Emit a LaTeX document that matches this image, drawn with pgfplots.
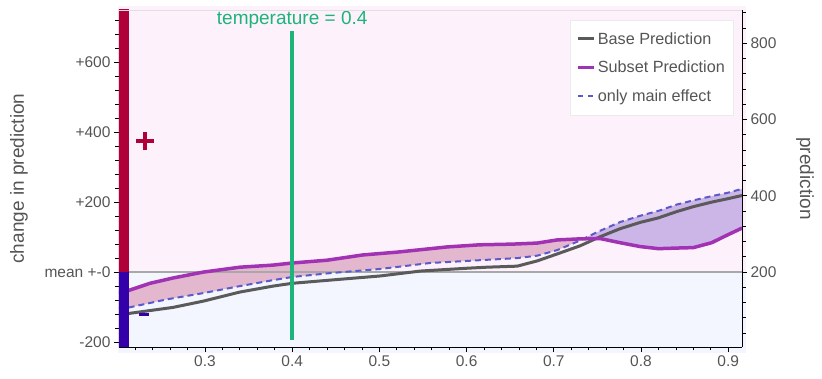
\documentclass[border=0pt]{standalone}
\usepackage{fontspec}
\setmainfont{Liberation Sans}
\usepackage{pgfplots}
\pgfplotsset{compat=1.18}
\usepgfplotslibrary{fillbetween}

\definecolor{txtgray}{HTML}{555555}
\definecolor{bgpink}{HTML}{FDF1FB}
\definecolor{bgblue}{HTML}{F3F6FE}
\definecolor{barred}{HTML}{B0003A}
\definecolor{barblue}{HTML}{3300AA}
\definecolor{basegray}{HTML}{5A5A5A}
\definecolor{subpurple}{HTML}{A232B4}
\definecolor{mainblue}{HTML}{5A5AC8}
\definecolor{fillpink}{HTML}{E3B7CE}
\definecolor{filllav}{HTML}{CCB6E8}
\definecolor{tempgreen}{HTML}{1DB47A}
\definecolor{meangray}{HTML}{A8A8A8}

\newcommand{\tickfont}{\fontsize{15.5}{17}\selectfont}
\newcommand{\legfont}{\fontsize{16.2}{18}\selectfont}
\newcommand{\labfont}{\fontsize{19}{22}\selectfont}

\begin{document}
\begin{tikzpicture}
\begin{axis}[
    set layers,
    width=623pt, height=337pt, scale only axis,
    xmin=0.2014, xmax=0.9158, ymin=-214, ymax=749,
    axis x line*=bottom, axis y line*=left,
    axis line style={-, black, line width=0.8pt},
    xtick={0.3,0.4,0.5,0.6,0.7,0.8,0.9},
    xticklabels={0.3,0.4,0.5,0.6,0.7,0.8,0.9},
    minor xtick={0.22,0.24,0.26,0.28,0.32,0.34,0.36,0.38,0.42,0.44,0.46,0.48,0.52,0.54,0.56,0.58,0.62,0.64,0.66,0.68,0.72,0.74,0.76,0.78,0.82,0.84,0.86,0.88},
    ytick={-200,0,200,400,600},
    yticklabels={-200,mean +-0,+200,+400,+600},
    minor ytick={-160,-120,-80,-40,40,80,120,160,240,280,320,360,440,480,520,560,640,680,720},
    tick align=outside,
    major tick length=5pt, minor tick length=3.5pt,
    tick style={black, line width=0.8pt},
    ticklabel style={font=\tickfont, text=txtgray},
    ylabel={change in prediction},
    every axis y label/.style={at={(axis description cs:-0.1605,0.5)}, rotate=90, anchor=center, font=\labfont, text=txtgray},
    legend style={at={(axis description cs:0.9856,0.970)}, anchor=north east,
        draw=black!8, fill=white, font=\legfont, text=txtgray,
        inner xsep=6pt, inner ysep=10pt, row sep=11.5pt},
    legend cell align=left,
    legend image code/.code={\draw[#1] (0pt,0pt) -- (16pt,0pt);},
]
% backgrounds
\addplot[fill=bgpink, draw=none, on layer=axis background, forget plot] coordinates {(0.2,0) (0.92,0) (0.92,760) (0.2,760)} -- cycle;
\addplot[fill=bgblue, draw=none, on layer=axis background, forget plot] coordinates {(0.2,-230) (0.92,-230) (0.92,0) (0.2,0)} -- cycle;

\addlegendimage{basegray, line width=3pt}
\addlegendentry{Base Prediction}
\addlegendimage{subpurple, line width=3.5pt}
\addlegendentry{Subset Prediction}
\addlegendimage{mainblue, line width=2pt, dash pattern=on 5pt off 5pt}
\addlegendentry{only main effect}

% mean line
\addplot[meangray, line width=1.4pt, forget plot] coordinates {(0.2,0) (0.92,0)};

% only main effect
\addplot[name path=mainfx, mainblue, line width=2pt, dash pattern=on 6pt off 4pt, forget plot] coordinates {
(0.201,-104) (0.213,-101) (0.256,-78) (0.298,-60) (0.340,-40) (0.378,-23) (0.400,-14)
(0.443,-3) (0.501,9) (0.558,26) (0.615,34) (0.658,40) (0.681,47) (0.704,63) (0.727,87)
(0.753,118) (0.776,143) (0.799,161) (0.820,175) (0.841,193) (0.860,205) (0.881,217)
(0.900,227) (0.916,238)};

% base prediction
\addplot[basegray, line width=3pt, forget plot] coordinates {
(0.201,-120) (0.213,-118) (0.263,-101) (0.298,-83) (0.340,-57) (0.378,-40) (0.400,-32)
(0.443,-23) (0.501,-11) (0.547,3) (0.600,11) (0.623,14) (0.658,17) (0.681,32) (0.704,52)
(0.730,75) (0.753,101) (0.776,124) (0.799,142) (0.820,155) (0.841,173) (0.860,187)
(0.881,200) (0.900,210) (0.916,219)};

% subset prediction
\addplot[name path=subset, subpurple, line width=3.5pt, forget plot] coordinates {
(0.201,-58) (0.213,-52) (0.237,-32) (0.263,-17) (0.298,0) (0.340,14) (0.378,20) (0.400,26)
(0.440,34) (0.481,49) (0.520,57) (0.578,72) (0.615,78) (0.653,80) (0.681,83) (0.704,92)
(0.730,95) (0.753,96) (0.776,84) (0.799,73) (0.820,67) (0.845,69) (0.860,70) (0.881,84)
(0.899,106) (0.916,126)};

\addplot[fillpink, forget plot] fill between[of=subset and mainfx, soft clip={domain=0.2:0.734}];
\addplot[filllav, forget plot] fill between[of=subset and mainfx, soft clip={domain=0.734:0.92}];

% temperature marker
\addplot[tempgreen, line width=3.5pt, forget plot] coordinates {(0.4,-195) (0.4,690)};
\node[anchor=south, text=tempgreen, font=\labfont, inner sep=2pt] at (axis cs:0.4,690) {temperature = 0.4};

% sign bars
\addplot[fill=barred, draw=none, forget plot] coordinates {(0.2,0) (0.2129,0) (0.2129,760) (0.2,760)} -- cycle;
\addplot[fill=barblue, draw=none, forget plot] coordinates {(0.2,-230) (0.2129,-230) (0.2129,0) (0.2,0)} -- cycle;
\addplot[only marks, mark=+, mark size=9pt, barred, line width=3.5pt, forget plot] coordinates {(0.2311,374)};
\addplot[barblue, line width=3.5pt, forget plot] coordinates {(0.2243,-121) (0.2358,-121)};

\draw[black!12, line width=0.8pt] (rel axis cs:0,1) -- (rel axis cs:1,1);
\end{axis}

\begin{axis}[
    width=623pt, height=337pt, scale only axis,
    xmin=0.2014, xmax=0.9158, ymin=3.4, ymax=887,
    axis x line=none, axis y line*=right,
    axis line style={-, black, line width=0.8pt},
    ytick={200,400,600,800},
    minor ytick={40,80,120,160,240,280,320,360,440,480,520,560,640,680,720,760,840,880},
    tick align=outside,
    major tick length=5pt, minor tick length=3.5pt,
    tick style={black, line width=0.8pt},
    ticklabel style={font=\tickfont, text=txtgray},
    yticklabel style={/pgf/number format/assume math mode=true},
    ylabel={prediction},
    every axis y label/.style={at={(axis description cs:1.101,0.5)}, rotate=-90, anchor=center, font=\labfont, text=txtgray},
]
\end{axis}
\pgfresetboundingbox
\useasboundingbox (-119pt,-32pt) rectangle (703pt,347pt);
\end{tikzpicture}
\end{document}
